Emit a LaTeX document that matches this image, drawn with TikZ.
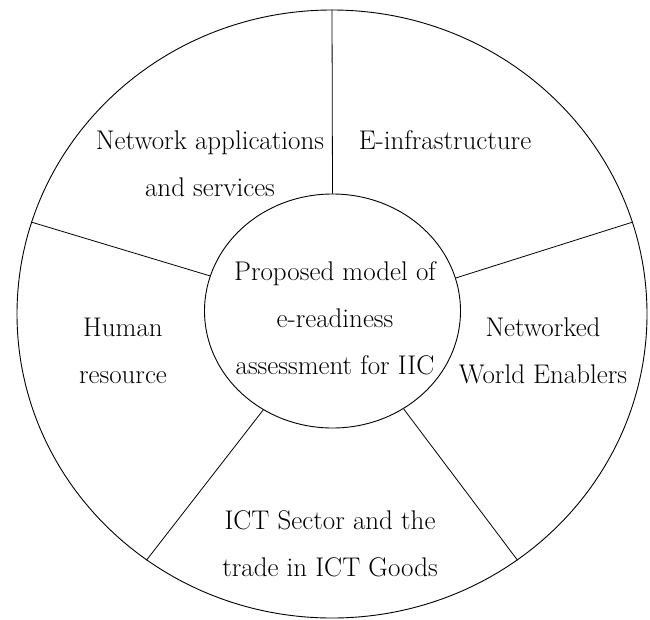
\documentclass[tikz,border=0pt]{standalone}
\usetikzlibrary{shapes.geometric}
\begin{document}
\begin{tikzpicture}[x=1pt,y=-1pt,
  ring/.style={draw=black,ellipse,inner sep=0pt,line width=0.9pt},
  divider/.style={draw=black,line width=0.8pt},
  label/.style={align=center,inner sep=0pt,font=\fontsize{27}{47}\selectfont}]
\useasboundingbox (0,0) rectangle (650,619);
\fill[white] (0,0) rectangle (650,619);
\node[ring,minimum width=630pt,minimum height=608pt] (outer) at (332,314) {};
\node[ring,minimum width=256pt,minimum height=234pt] (inner) at (332.5,311) {};
\draw[divider] (inner.90) -- (outer.90);
\draw[divider] (inner.164) -- (outer.163);
\draw[divider] (inner.15.5) -- (outer.17);
\draw[divider] (inner.235) -- (outer.233.7);
\draw[divider] (inner.306.8) -- (outer.307.2);
\node[label] (netapp) at (210,163.5) {Network applications\\and services};
\node[label] (einfra) at (445,140) {E-infrastructure};
\node[label] (human) at (123,351) {Human\\resource};
\node[label] (nwe) at (543,351) {Networked\\World Enablers};
\node[label] (model) at (335,318) {Proposed model of\\e-readiness\\assessment for IIC};
\node[label] (ict) at (330,544) {ICT Sector and the\\trade in ICT Goods};
\end{tikzpicture}
\end{document}
